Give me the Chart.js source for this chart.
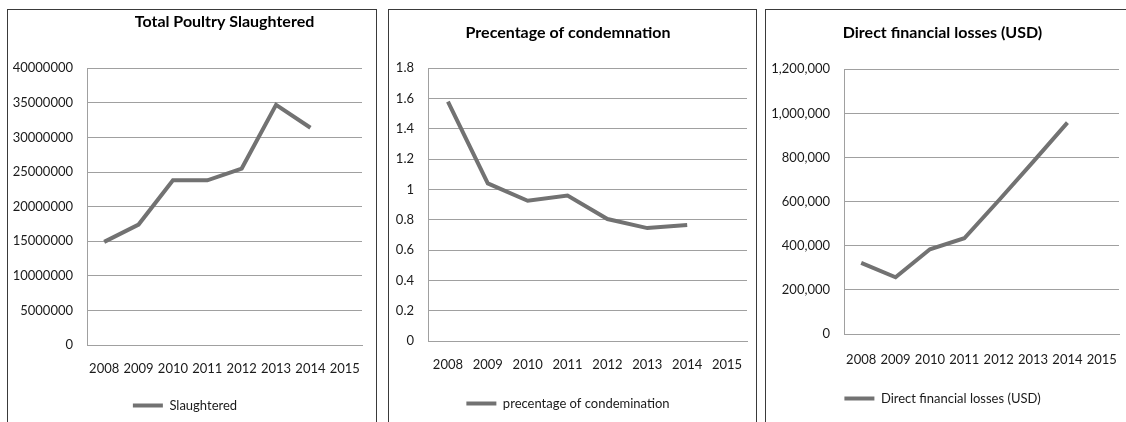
<!DOCTYPE html>
<html>
<head>
<meta charset="utf-8">
<script src="https://cdn.jsdelivr.net/npm/chart.js@4.4.1/dist/chart.umd.min.js"></script>
<style>
body { margin: 0; background: #fff; width: 1126px; height: 422px; overflow: hidden; position: relative; }
.panel { position: absolute; top: 9px; height: 420px; border: 1px solid #3a3a3a; border-bottom: none; box-sizing: border-box; }
.panel div { position: absolute; left: 0; top: 0; width: 100%; height: 412px; }
</style>
</head>
<body>
<div class="panel" style="left:7px;width:370px"><div><canvas id="c1"></canvas></div></div>
<div class="panel" style="left:388px;width:369px"><div><canvas id="c2"></canvas></div></div>
<div class="panel" style="left:765px;width:370px"><div><canvas id="c3"></canvas></div></div>
<script>
var years = ['2008', '2009', '2010', '2011', '2012', '2013', '2014', '2015'];
var slaughtered = [14900000, 17400000, 23800000, 23800000, 25500000, 34700000, 31400000, null];
var condemnation = [1.58, 1.04, 0.925, 0.96, 0.805, 0.745, 0.765, null];
var losses = [322000, 257000, 384000, 434000, 605000, 780000, 958000, null];

Chart.defaults.font.family = "Lato, 'Open Sans', sans-serif";
Chart.defaults.color = '#1a1a1a';

function makeChart(id, title, label, data, yMax, yStep, fmt, box) {
    var ctx = document.getElementById(id).getContext('2d');
    return new Chart(ctx, {
        type: 'line',
        data: {
            labels: years,
            datasets: [{
                label: label,
                data: data,
                borderColor: '#727272',
                backgroundColor: '#727272',
                borderWidth: 4,
                pointRadius: 0,
                tension: 0
            }]
        },
        options: {
            responsive: true,
            maintainAspectRatio: false,
            animation: false,
            layout: { padding: { left: 0, right: box.right, top: 0, bottom: box.bottom } },
            plugins: {
                title: {
                    display: true,
                    text: title,
                    color: '#000',
                    fullSize: box.titleFull,
                    font: { size: 16, weight: 'bold', lineHeight: 1.2 },
                    padding: { top: box.titleTop, bottom: box.titleBottom }
                },
                legend: {
                    position: 'bottom',
                    labels: {
                        usePointStyle: true,
                        pointStyle: 'line',
                        pointStyleWidth: 30,
                        boxHeight: 13,
                        font: { size: 13 },
                        padding: 10
                    }
                },
                tooltip: { enabled: false }
            },
            scales: {
                x: {
                    offset: true,
                    afterFit: function (scale) { scale.height = box.axisH; },
                    grid: { display: false },
                    border: { display: true, color: '#a0a0a0' },
                    ticks: { padding: box.xPad, font: { size: 13 }, maxRotation: 0, autoSkip: false }
                },
                y: {
                    min: 0,
                    max: yMax,
                    afterFit: function (scale) { scale.width = box.axisW; },
                    grid: { color: '#a0a0a0', drawTicks: false },
                    border: { display: true, color: '#a0a0a0' },
                    ticks: { stepSize: yStep, padding: 14, font: { size: 13 }, callback: fmt }
                }
            }
        }
    });
}

makeChart('c1', 'Total Poultry Slaughtered', 'Slaughtered', slaughtered, 40000000, 5000000,
    function (v) { return String(v); },
    { right: 14, bottom: 0, titleTop: 2, titleBottom: 37, titleFull: false, axisW: 79, axisH: 44, xPad: 8 });

makeChart('c2', 'Precentage of condemnation', 'precentage of condemination', condemnation, 1.8, 0.2,
    function (v) { return String(Math.round(v * 10) / 10); },
    { right: 9, bottom: 2, titleTop: 13, titleBottom: 26, titleFull: true, axisW: 39, axisH: 46, xPad: 8 });

makeChart('c3', 'Direct financial losses (USD)', 'Direct financial losses (USD)', losses, 1200000, 200000,
    function (v) { return Math.round(v).toLocaleString('en-US'); },
    { right: 15, bottom: 7, titleTop: 13, titleBottom: 27, titleFull: true, axisW: 78, axisH: 48, xPad: 10 });
</script>
</body>
</html>
